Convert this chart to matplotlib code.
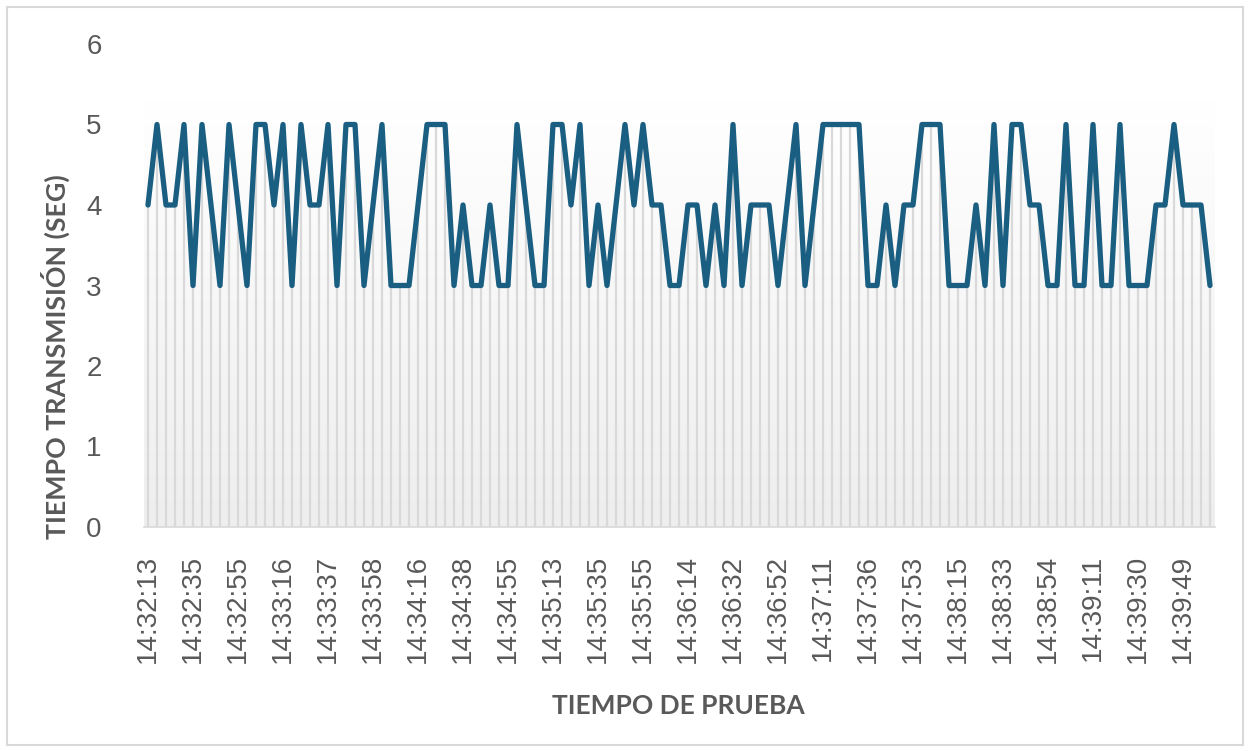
import matplotlib
matplotlib.use("Agg")
import matplotlib.pyplot as plt
import numpy as np
from matplotlib.patches import Rectangle
from matplotlib.colors import LinearSegmentedColormap

# Data
transmission_time = [
    4, 5, 4, 4, 5, 3, 5, 4, 3, 5,
    4, 3, 5, 5, 4, 5, 3, 5, 4, 4,
    5, 3, 5, 5, 3, 4, 5, 3, 3, 3,
    4, 5, 5, 5, 3, 4, 3, 3, 4, 3,
    3, 5, 4, 3, 3, 5, 5, 4, 5, 3,
    4, 3, 4, 5, 4, 5, 4, 4, 3, 3,
    4, 4, 3, 4, 3, 5, 3, 4, 4, 4,
    3, 4, 5, 3, 4, 5, 5, 5, 5, 5,
    3, 3, 4, 3, 4, 4, 5, 5, 5, 3,
    3, 3, 4, 3, 5, 3, 5, 5, 4, 4,
    3, 3, 5, 3, 3, 5, 3, 3, 5, 3,
    3, 3, 4, 4, 5, 4, 4, 4, 3,
]
tick_labels = [
    "14:32:13", "14:32:35", "14:32:55", "14:33:16", "14:33:37", "14:33:58",
    "14:34:16", "14:34:38", "14:34:55", "14:35:13", "14:35:35", "14:35:55",
    "14:36:14", "14:36:32", "14:36:52", "14:37:11", "14:37:36", "14:37:53",
    "14:38:15", "14:38:33", "14:38:54", "14:39:11", "14:39:30", "14:39:49",
]
tick_step = 5
y_ticks = [0, 1, 2, 3, 4, 5, 6]

n = len(transmission_time)
x = np.arange(n)
tick_pos = np.arange(0, n, tick_step)[:len(tick_labels)]

W, H = 1250, 751
fig = plt.figure(figsize=(W / 100, H / 100), dpi=100)
fig.patch.set_facecolor("white")

ax = fig.add_axes([143.5 / W, 1 - 527 / H, (1214.5 - 143.5) / W, (527 - 44) / H])
ax.set_xlim(-0.5, n - 0.5)
ax.set_ylim(0, 6)

# gradient background band
band_top = 5.3
grad = np.linspace(0.0, 1.0, 256).reshape(-1, 1)
cmap = LinearSegmentedColormap.from_list("g", ["#eeeeee", "#ffffff"])
ax.imshow(grad, extent=(-0.5, n - 0.5, 0, band_top), aspect="auto",
          cmap=cmap, origin="lower", zorder=0, vmin=0, vmax=1)

# drop lines
ax.vlines(x, 0, transmission_time, colors="#d9d9d9", linewidth=1.6, zorder=1)

# main line
ax.plot(x, transmission_time, color="#1a5f82", linewidth=3.8,
        solid_joinstyle="round", solid_capstyle="round", zorder=3)

for s in ["top", "right", "left"]:
    ax.spines[s].set_visible(False)
ax.spines["bottom"].set_color("#d9d9d9")
ax.spines["bottom"].set_linewidth(1.2)

ax.set_yticks(y_ticks)
ax.set_yticklabels([str(v) for v in y_ticks])
ax.set_xticks(tick_pos)
ax.set_xticklabels(tick_labels, rotation=90)
ax.tick_params(axis="y", length=0, pad=30, labelsize=20, labelcolor="#595959")
ax.tick_params(axis="x", length=0, pad=20, labelsize=20, labelcolor="#595959")
for lab in ax.get_xticklabels() + ax.get_yticklabels():
    lab.set_fontfamily("Liberation Sans")

fig.text(55 / W, 1 - 357 / H, "TIEMPO TRANSMISIÓN (SEG)", rotation=90,
         ha="center", va="center", fontsize=19.3, fontweight="bold",
         color="#595959", family="Lato")
fig.text(678 / W, 1 - 706 / H, "TIEMPO DE PRUEBA", ha="center", va="center",
         fontsize=19, fontweight="bold", color="#595959", family="Lato")

# figure border
fig.add_artist(Rectangle((7 / W, 6 / H), (W - 14) / W, (H - 13) / H,
                         transform=fig.transFigure, fill=False,
                         edgecolor="#d9d9d9", linewidth=1.5))

fig.savefig("out.png", dpi=100, facecolor="white")
